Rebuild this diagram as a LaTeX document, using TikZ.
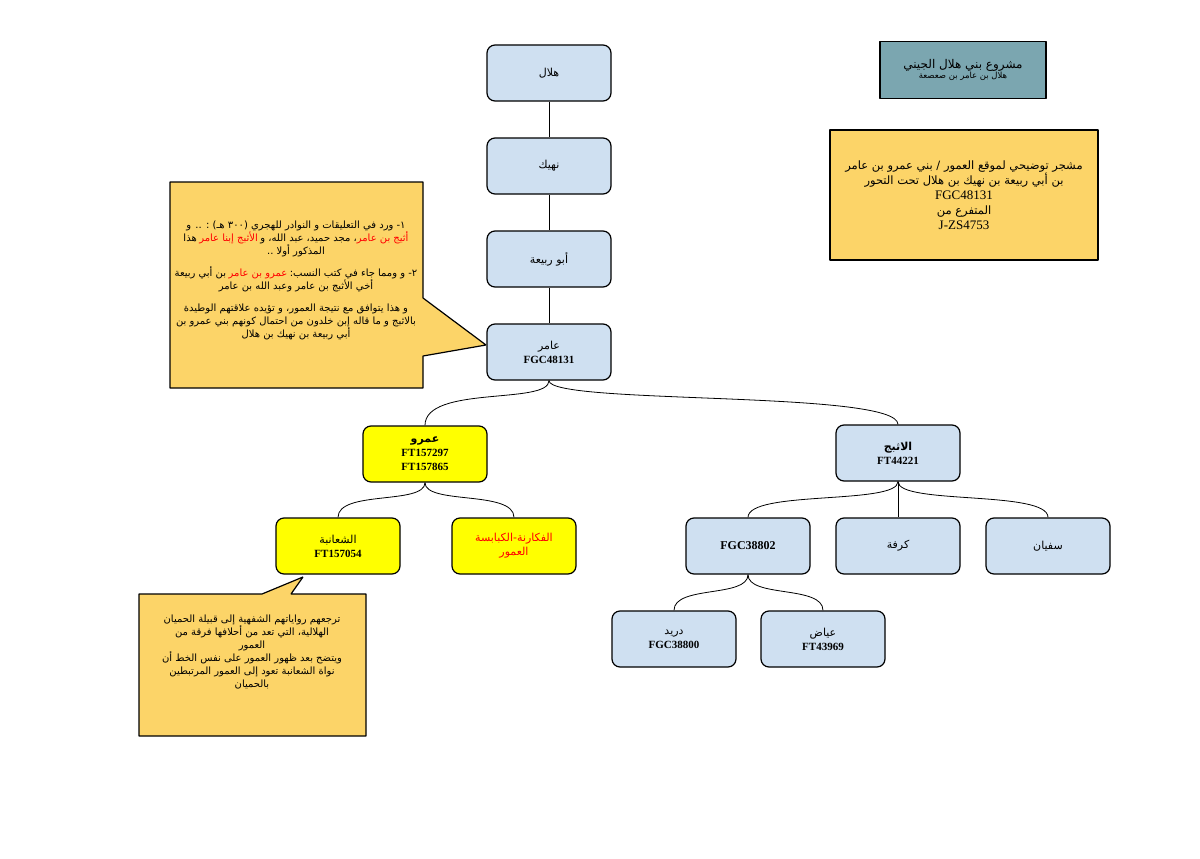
\documentclass[tikz,border=0pt]{standalone}
\usepackage{fontspec}
\usepackage[x11names, svgnames, rgb]{xcolor}
\setmainfont{Liberation Serif}
\newfontfamily\arfont[Script=Arabic]{DejaVu Sans}
\TeXXeTstate=1
\newcommand{\ar}[1]{{\arfont\beginR #1\endR}}
\newcommand{\arred}[1]{\textcolor{red}{\ar{#1}}}
\definecolor{boxblue}{HTML}{CFE0F1}
\definecolor{boxyellow}{HTML}{FFFF00}
\definecolor{noteorange}{HTML}{FCD468}
\definecolor{titleteal}{HTML}{7BA6B0}
\begin{document}
\begin{tikzpicture}[x=1pt,y=-1pt,line join=bevel,
  person/.style={draw,line width=1.2pt,rounded corners=8pt,fill=boxblue,minimum width=124pt,minimum height=56pt,align=center,font=\fontsize{11}{14}\selectfont},
  branch/.style={person,fill=boxyellow},
  note/.style={draw,line width=1.2pt,fill=noteorange},
  notetext/.style={align=center,font=\fontsize{10}{13}\selectfont},
  link/.style={draw,line width=0.8pt}]
\useasboundingbox (0,0) rectangle (1200,859);
%%
\node (hilal) at (549,73) [person] {\ar{هلال}};
  \node (nahik) at (549,166) [person] {\ar{نهيك}};
  \node (rabia) at (549,259) [person] {\ar{أبو ربيعة}};
  \node (amir) at (549,352) [person] {\ar{عامر}\\\textbf{FGC48131}};
  \node (amr) at (425,454) [branch] {\textbf{\ar{عمرو}}\\\textbf{FT157297}\\\textbf{FT157865}};
  \node (athbaj) at (898,453) [person] {\textbf{\ar{الاثبج}}\\\textbf{FT44221}};
  \node (shaanba) at (338,546) [branch] {\ar{الشعانبة}\\\textbf{FT157054}};
  \node (fkarna) at (514,546) [branch,text=red] {\ar{الفكارنة-الكبابسة}\\\ar{العمور}};
  \node (fgc) at (748,546) [person] {\textbf{\large FGC38802}};
  \node (kurfa) at (898,546) [person] {\ar{كرفة}};
  \node (sufyan) at (1048,546) [person] {\ar{سفيان}};
  \node (durayd) at (674,639) [person] {\ar{دريد}\\\textbf{FGC38800}};
  \node (ayyad) at (823,639) [person] {\ar{عياض}\\\textbf{FT43969}};
  \draw [link] (hilal) -- (nahik);
  \draw [link] (nahik) -- (rabia);
  \draw [link] (rabia) -- (amir);
  \draw [link] (amir.south) ..controls (549,405) and (425,385) .. (amr.north);
  \draw [link] (amir.south) ..controls (549,405) and (898,390) .. (athbaj.north);
  \draw [link] (amr.south) ..controls (425,505) and (338,490) .. (shaanba.north);
  \draw [link] (amr.south) ..controls (425,505) and (514,490) .. (fkarna.north);
  \draw [link] (athbaj.south) ..controls (898,505) and (748,490) .. (fgc.north);
  \draw [link] (athbaj) -- (kurfa);
  \draw [link] (athbaj.south) ..controls (898,505) and (1048,490) .. (sufyan.north);
  \draw [link] (fgc.south) ..controls (748,598) and (674,585) .. (durayd.north);
  \draw [link] (fgc.south) ..controls (748,598) and (823,585) .. (ayyad.north);
%% title and notes
\node (title) at (963,70) [draw,line width=1.2pt,fill=titleteal,minimum width=166pt,minimum height=57pt,align=center]
  {{\fontsize{12}{14}\selectfont\ar{مشروع بني هلال الجيني}}\\[-2pt]{\fontsize{8.5}{10}\selectfont\ar{هلال بن عامر بن صعصعة}}};
\node (info) at (964,195) [draw,line width=1.2pt,fill=noteorange,minimum width=268pt,minimum height=130pt,align=center,font=\fontsize{11.5}{15}\selectfont]
  {\ar{مشجر توضيحي لموقع العمور / بني عمرو بن عامر}\\\ar{بن أبي ربيعة بن نهيك بن هلال تحت التحور}\\{\fontsize{13}{15}\selectfont FGC48131}\\\ar{المتفرع من}\\{\fontsize{13}{15}\selectfont J-ZS4753}};
\draw [note] (170,182) -- (423,182) -- (423,298) -- (486,345) -- (423,356) -- (423,388) -- (170,388) -- cycle;
\node (ncall) at (296,280) [notetext]
  {\ar{١- ورد في التعليقات و النوادر للهجري (٣٠٠ هـ) : .. و}\\
   \ar{هذا} \arred{الأثبج إبنا عامر} \ar{، مجد حميد، عبد الله، و}\arred{أثيج بن عامر}\\
   \ar{المذكور أولا ..}\\[9pt]
   \ar{بن أبي ربيعة} \arred{عمرو بن عامر} \ar{٢- و ومما جاء في كتب النسب:}\\
   \ar{أخي الأثبج بن عامر وعبد الله بن عامر}\\[9pt]
   \ar{و هذا يتوافق مع نتيجة العمور، و تؤيده علاقتهم الوطيدة}\\
   \ar{بالاثبج و ما قاله إبن خلدون من احتمال كونهم بني عمرو بن}\\
   \ar{أبي ربيعة بن نهيك بن هلال}};
\draw [note] (139,594) -- (262,594) -- (303,577) -- (291,594) -- (366,594) -- (366,736) -- (139,736) -- cycle;
\node (scall) at (252,652) [notetext]
  {\ar{ترجعهم رواياتهم الشفهية إلى قبيلة الحميان}\\
   \ar{الهلالية، التي تعد من أحلافها فرقة من}\\
   \ar{العمور}\\
   \ar{ويتضح بعد ظهور العمور على نفس الخط أن}\\
   \ar{نواة الشعانبة تعود إلى العمور المرتبطين}\\
   \ar{بالحميان}};
%
\end{tikzpicture}
\end{document}
